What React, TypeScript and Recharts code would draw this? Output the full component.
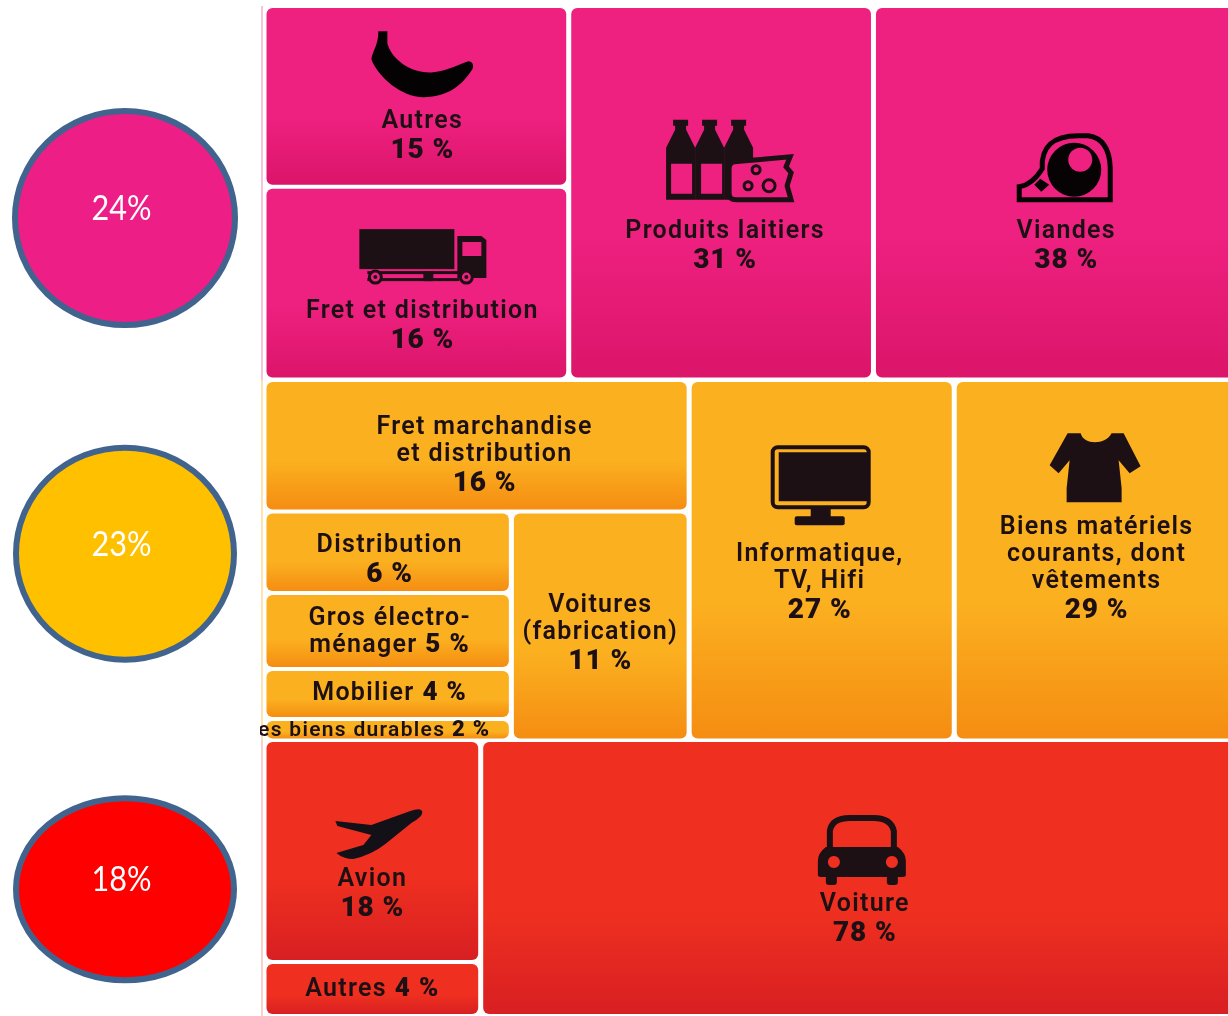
import React from 'react';
import { ScatterChart, Scatter, ReferenceArea, XAxis, YAxis } from 'recharts';

// shares printed on the picture, one set of lists per block
const foodLabels = [['Autres'], ['Fret et distribution'], ['Produits laitiers'], ['Viandes']];
const foodValues = [15, 16, 31, 38];

const goodsLabels = [
  ['Fret marchandise', 'et distribution'],
  ['Distribution'],
  ['Gros électro-', 'ménager'],
  ['Mobilier'],
  ['Autres biens durables'],
  ['Voitures', '(fabrication)'],
  ['Informatique,', 'TV, Hifi'],
  ['Biens matériels', 'courants, dont', 'vêtements'],
];
const goodsValues = [16, 6, 5, 4, 2, 11, 27, 29];
// the printed shares are rounded, these are the unrounded ones estimated from the boxes
const goodsAreas = [15.8, 5.7, 5.3, 3.5, 1.5, 11.5, 27, 29];

const travelLabels = [['Avion'], ['Autres'], ['Voiture']];
const travelValues = [18, 4, 78];
const travelAreas = [17.7, 4.3, 78];

const circleValues = [24, 23, 18];

type Tree = number | { split: 'x' | 'y'; parts: Tree[] };

const foodTree: Tree = { split: 'x', parts: [{ split: 'y', parts: [0, 1] }, 2, 3] };
const goodsTree: Tree = {
  split: 'x',
  parts: [
    { split: 'y', parts: [0, { split: 'x', parts: [{ split: 'y', parts: [1, 2, 3, 4] }, 5] }] },
    6,
    7,
  ],
};
const travelTree: Tree = { split: 'x', parts: [{ split: 'y', parts: [0, 1] }, 2] };

const LABEL_FONT = 'Roboto, sans-serif';
const INK = '#1d1014';
const PINK = '#ee2080';

type CellStyle = {
  dx: number;
  dy: number; // first baseline, from the cell centre
  step?: number;
  icon?: keyof typeof icons;
  inline?: boolean;
  size?: number;
};

const foodStyles: CellStyle[] = [
  { dx: 6, dy: 32, icon: 'banana' },
  { dx: 6, dy: 35, icon: 'truck' },
  { dx: 4, dy: 45, icon: 'dairy' },
  { dx: 6, dy: 45, icon: 'meat' },
];
const goodsStyles: CellStyle[] = [
  { dx: 8, dy: -12 },
  { dx: 2, dy: 0 },
  { dx: 2, dy: -6, inline: true },
  { dx: 2, dy: 6, inline: true },
  { dx: -36, dy: 6, inline: true, size: 21 },
  { dx: 0, dy: -14 },
  { dx: -2, dy: 1, icon: 'screen' },
  { dx: 0, dy: -26, icon: 'shirt' },
];
const travelStyles: CellStyle[] = [
  { dx: 0, dy: 35, icon: 'plane' },
  { dx: 0, dy: 7, inline: true },
  { dx: 0, dy: 33, icon: 'car' },
];

// icons in local pixels, placed by their top left corner relative to the label anchor
const wheel = (cx: number) => (
  <g key={cx}>
    <circle cx={cx} cy={48} r={6} fill={PINK} stroke={INK} strokeWidth={3} />
    <circle cx={cx} cy={48} r={2} fill={INK} />
  </g>
);

const icons = {
  banana: {
    off: [-51, -97],
    draw: (
      <path d="M7 0 L16 0 L16 12 C20 28 40 43 62 41 C75 40 88 33 97 30 C101 30 103 34 101 38 C92 52 78 66 52 66 C30 66 6 45 0 28 C1 20 7 14 7 0 Z" fill="#050204" />
    ),
  },
  truck: {
    off: [-63, -89],
    draw: (
      <g fill={INK}>
        <rect x={0} y={0} width={95} height={40} />
        <path fillRule="evenodd" d="M98 7 H122 L127 11 V49 H98 Z M103 13 V27 H122 V13 Z" />
        <rect x={8} y={42} width={92} height={3} />
        <rect x={8} y={49} width={92} height={3} />
        <rect x={64} y={42} width={10} height={10} />
        {wheel(16)}
        {wheel(107)}
      </g>
    ),
  },
  dairy: {
    off: [-59, -118],
    draw: (
      <g fill={INK}>
        {[0, 29, 58].map((b) => (
          <g key={b}>
            <rect x={b + 7} y={0} width={15} height={6} />
            <path d={`M${b + 9} 5 H${b + 20} V10 L${b + 29} 28 V80 H${b} V28 L${b + 9} 10 Z`} />
          </g>
        ))}
        <rect x={5} y={44} width={21} height={30} fill={PINK} />
        <rect x={35} y={44} width={21} height={30} fill={PINK} />
        <path fill={PINK} stroke={INK} strokeWidth={5} d="M68 42 L124 37 L120 47 L125 53 L121 66 L125 80 H70 Q63 80 63 74 V49 Q63 43 68 42 Z" />
        <circle cx={90} cy={50} r={4} fill="none" stroke={INK} strokeWidth={3} />
        <circle cx={82} cy={66} r={4} fill="none" stroke={INK} strokeWidth={3} />
        <circle cx={103} cy={66} r={6} fill="none" stroke={INK} strokeWidth={3} />
      </g>
    ),
  },
  meat: {
    off: [-50, -105],
    draw: (
      <g>
        <path fill="none" stroke="#070304" strokeWidth={5} d="M3 67 V54 Q16 52 26 36 Q24 3 62 3 H72 Q93 6 94 35 V67 Z" />
        <circle cx={58} cy={37} r={27} fill="#070304" />
        <circle cx={64} cy={27} r={12} fill={PINK} />
        <path fill="#070304" d="M24 46 L33 52 L25 59 L18 52 Z" />
      </g>
    ),
  },
  screen: {
    off: [-49, -116],
    draw: (
      <g fill={INK}>
        <rect x={2} y={2} width={96} height={60} rx={5} fill="none" stroke={INK} strokeWidth={4} />
        <rect x={8} y={7} width={90} height={49} />
        <rect x={40} y={62} width={20} height={11} />
        <rect x={24} y={71} width={50} height={9} rx={2} />
      </g>
    ),
  },
  shirt: {
    off: [-47, -101],
    draw: (
      <path fill={INK} d="M18 0 H31 C34 12 56 12 62 0 H74 L91 33 L80 40 L69 27 L72 55 V69 H17 V55 L20 27 L9 40 L0 32 Z" />
    ),
  },
  plane: {
    off: [-37, -77],
    draw: (
      <path fill="#141018" d="M0 12 L36 16 L75 2 Q86 -2 87 3 Q87 8 76 14 L50 35 Q36 46 18 50 Q8 50 1 44 L28 36 L36 26 L2 17 Z" />
    ),
  },
  car: {
    off: [-47, -96],
    draw: (
      <g fill={INK}>
        <path fill="none" stroke={INK} strokeWidth={6} d="M12 34 V16 Q14 3 32 3 H56 Q73 3 76 16 V34" />
        <path fillRule="evenodd" d="M8 32 H80 Q88 38 88 46 V60 Q88 62 84 62 H4 Q0 62 0 60 V46 Q0 38 8 32 Z M16 41 A6 6 0 1 0 16.1 41 Z M74 41 A6 6 0 1 0 74.1 41 Z" />
        <rect x={8} y={60} width={11} height={10} rx={3} />
        <rect x={69} y={60} width={11} height={10} rx={3} />
      </g>
    ),
  },
};

const total = (t: Tree, values: number[]): number =>
  typeof t === 'number' ? values[t] : t.parts.reduce((s, p) => s + total(p, values), 0);

// slice and dice: cuts the 0-100 box in proportion to the values
const sliceCells = (t: Tree, values: number[], box: number[], out: any[] = []) => {
  if (typeof t === 'number') {
    out.push({ index: t, x1: box[0], x2: box[1], y1: box[2], y2: box[3] });
    return out;
  }
  const all = total(t, values);
  let pos = t.split === 'x' ? box[0] : box[2];
  const span = t.split === 'x' ? box[1] - box[0] : box[3] - box[2];
  t.parts.forEach((p) => {
    const next = pos + (span * total(p, values)) / all;
    sliceCells(p, values, t.split === 'x' ? [pos, next, box[2], box[3]] : [box[0], box[1], pos, next], out);
    pos = next;
  });
  return out;
};

const TreeCell = (props: any) => {
  const { x, y, width, height, id, colors, lines, value, look } = props;
  const cx = x + width / 2 + look.dx;
  const base = y + height / 2 + look.dy;
  const step = look.step ?? 27;
  const size = look.size ?? 25;
  const gradId = `grad-${id}`;
  const icon = look.icon ? icons[look.icon as keyof typeof icons] : null;
  return (
    <g>
      <defs>
        <linearGradient id={gradId} x1="0" y1="0" x2="0" y2="1">
          <stop offset="0.62" stopColor={colors[0]} />
          <stop offset="1" stopColor={colors[1]} />
        </linearGradient>
      </defs>
      <rect x={x + 2.5} y={y + 2} width={width - 5} height={height - 4} rx={6} fill={`url(#${gradId})`} />
      {icon && <g transform={`translate(${cx + icon.off[0]} ${base + icon.off[1]})`}>{icon.draw}</g>}
      <g fontFamily={LABEL_FONT} textAnchor="middle" fill={INK}>
        {lines.map((line: string, i: number) => (
          <text key={i} x={cx} y={base + i * step} fontSize={size} fontWeight={600} style={{ letterSpacing: 1.3 }}>
            {line}
            {look.inline && i === lines.length - 1 && (
              <tspan fontWeight={900} fontSize={size + 1}>{` ${value} %`}</tspan>
            )}
          </text>
        ))}
        {!look.inline && (
          <text x={cx} y={base + (lines.length - 1) * step + 30} fontSize={28} fontWeight={900} style={{ letterSpacing: 0.9 }}>
            {`${value} %`}
          </text>
        )}
      </g>
    </g>
  );
};

const TreeRow = ({ id, top, width, height, tree, labels, values, areas, styles, colors, strip }: any) => {
  const cells = sliceCells(tree, areas ?? values, [0, 100, 0, 100]);
  return (
    <div style={{ position: 'absolute', left: 260, top, width: width + 4, height }}>
      <div style={{ position: 'absolute', left: 1, top: 0, width: 2, height, background: strip }} />
      <div style={{ position: 'absolute', left: 0, top: 0 }}>
        <ScatterChart width={width + 4} height={height} margin={{ top: 0, right: 0, bottom: 0, left: 4 }}>
          <XAxis type="number" dataKey="x" domain={[0, 100]} allowDataOverflow hide />
          <YAxis type="number" dataKey="y" domain={[0, 100]} allowDataOverflow reversed hide />
          {cells.map((c: any) => (
            <ReferenceArea
              key={c.index}
              x1={c.x1}
              x2={c.x2}
              y1={c.y1}
              y2={c.y2}
              ifOverflow="visible"
              shape={(p: any) => (
                <TreeCell
                  {...p}
                  id={`${id}-${c.index}`}
                  colors={colors}
                  lines={labels[c.index]}
                  value={values[c.index]}
                  look={styles[c.index]}
                />
              )}
            />
          ))}
        </ScatterChart>
      </div>
    </div>
  );
};

const circleFills = ['#ed1e85', '#ffc000', '#ff0000'];
const circleRadii = [[110, 107], [109, 106], [109, 91]];
const circleData = circleValues.map((value, row) => ({ x: 0, row, value }));

const CircleMark = (props: any) => {
  const { cx, cy, payload } = props;
  const [rx, ry] = circleRadii[payload.row];
  return (
    <g>
      <ellipse cx={cx} cy={cy} rx={rx} ry={ry} fill={circleFills[payload.row]} stroke="#41648f" strokeWidth={6} />
      <text
        x={cx - 3.5}
        y={cy + 2}
        textAnchor="middle"
        fontFamily="Lato, sans-serif"
        fontSize={35}
        fill="#fff"
        textLength={60}
        lengthAdjust="spacingAndGlyphs"
      >
        {`${payload.value}%`}
      </text>
    </g>
  );
};

export default function App() {
  return (
    <div style={{ position: 'absolute', left: 0, top: 0, width: 1228, height: 1016, overflow: 'hidden', background: '#fff', filter: 'blur(0.5px)' }}>
      <div style={{ position: 'absolute', left: 0, top: 0 }}>
        <ScatterChart width={250} height={1016} margin={{ top: 0, right: 0, bottom: 0, left: 0 }}>
          <XAxis type="number" dataKey="x" domain={[-1, 1]} hide />
          <YAxis type="number" dataKey="row" domain={[-0.65, 2.378]} reversed hide />
          <Scatter data={circleData} isAnimationActive={false} shape={<CircleMark />} />
        </ScatterChart>
      </div>
      <TreeRow
        id="food"
        top={6}
        width={983}
        height={373.5}
        tree={foodTree}
        labels={foodLabels}
        values={foodValues}
        styles={foodStyles}
        colors={['#ee2080', '#db1569']}
        strip="#f9c3dc"
      />
      <TreeRow
        id="goods"
        top={379.5}
        width={975}
        height={360.5}
        tree={goodsTree}
        labels={goodsLabels}
        values={goodsValues}
        areas={goodsAreas}
        styles={goodsStyles}
        colors={['#fbb020', '#f58d12']}
        strip="#fce3b0"
      />
      <TreeRow
        id="travel"
        top={740}
        width={985}
        height={276}
        tree={travelTree}
        labels={travelLabels}
        values={travelValues}
        areas={travelAreas}
        styles={travelStyles}
        colors={['#ef3020', '#d81f22']}
        strip="#fbd0c8"
      />
    </div>
  );
}
